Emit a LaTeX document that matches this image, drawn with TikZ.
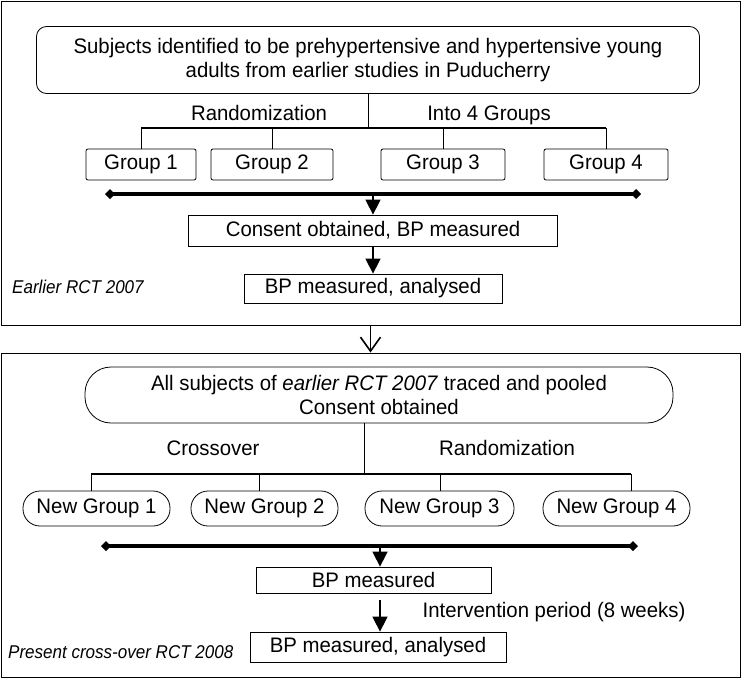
\documentclass[tikz,border=0pt]{standalone}
\usepackage{fontspec}
\setmainfont{Liberation Sans}[FakeStretch=0.97]
\newfontfamily\sidefont{Liberation Sans}[FakeStretch=0.92]
\usepackage{tikz}
\usetikzlibrary{
arrows.meta,
calc,
}

\tikzset{
	frame/.style={draw, line width=1pt, minimum width=739pt, inner sep=0pt},
	stepbox/.style={draw, line width=0.8pt, inner sep=0pt, align=center},
	grpbox/.style={stepbox, rounded corners=2pt, minimum height=31pt},
	newgrp/.style={stepbox, rounded corners=17pt, minimum height=35pt},
	lbl/.style={anchor=base, inner sep=0pt},
	branch/.style={line width=1.8pt},
	drop/.style={line width=0.9pt},
	bar/.style={line width=4.2pt, {Diamond[length=10pt,width=10pt]}-{Diamond[length=10pt,width=10pt]}},
	arr/.style={line width=1.5pt, -{Triangle[length=15pt,width=15pt]}},
	side/.style={anchor=base west, inner sep=0pt, font=\sidefont\fontsize{18.5}{22}\selectfont\itshape},
}

\begin{document}
\begin{tikzpicture}[x=1pt, y=-1pt, every node/.style={font=\fontsize{21}{24}\selectfont}]
			\useasboundingbox (0,0) rectangle (741,678);

			% earlier trial
			\node[frame, minimum height=324pt] (earlier) at (370.5,163) {};
			\node[stepbox, rounded corners=10pt, minimum width=663pt, minimum height=67pt] (subj) at (368,60)
				{Subjects identified to be prehypertensive and hypertensive young\\adults from earlier studies in Puducherry};
			\coordinate (r1) at (368,128);
			\node[lbl] (rand1) at (259,120) {Randomization};
			\node[lbl] (into) at (489,120) {Into 4 Groups};

			\node[grpbox, minimum width=110pt] (g1) at (141,164.5) {Group 1};
			\node[grpbox, minimum width=122pt] (g2) at (272,164.5) {Group 2};
			\node[grpbox, minimum width=124pt] (g3) at (443,164.5) {Group 3};
			\node[grpbox, minimum width=124pt] (g4) at (606,164.5) {Group 4};

			\draw[drop] (subj.south) -- (r1);
			\draw[branch] (g1.north |- r1) -- (g4.north |- r1);
			\foreach \g in {g1,g2,g3,g4}
				\draw[drop] (\g.north) -- (\g.north |- r1);

			\coordinate (bl1) at (105,194);
			\coordinate (br1) at (641,194);
			\draw[bar] (bl1) -- (br1);

			\node[stepbox, minimum width=369pt, minimum height=31pt] (consent) at (373,230.5) {Consent obtained, BP measured};
			\node[stepbox, minimum width=258pt, minimum height=29pt] (bp1) at (373,288.5) {BP measured, analysed};
			\draw[arr] (consent.north |- bl1) -- (consent.north);
			\draw[arr] (consent.south) -- (bp1.north);
			\node[side] (lbl1) at (12,293) {Earlier RCT 2007};

			% present trial
			\node[frame, minimum height=324pt] (present) at (370.5,515) {};
			\draw[line width=1.6pt, -{Straight Barb[length=14pt,width=20pt]}] (earlier.south) -- (present.north);

			\node[stepbox, rounded corners=26pt, minimum width=588pt, minimum height=56pt] (pool) at (379,395)
				{All subjects of \textit{earlier RCT 2007} traced and pooled\\Consent obtained};
			\coordinate (r2) at (364,474);
			\node[lbl] (cross) at (213,455) {Crossover};
			\node[lbl] (rand2) at (507,455) {Randomization};

			\node[newgrp, minimum width=147pt] (ng1) at (96.5,508.5) {New Group 1};
			\node[newgrp, minimum width=147pt] (ng2) at (264.5,508.5) {New Group 2};
			\node[newgrp, minimum width=149pt] (ng3) at (439.5,508.5) {New Group 3};
			\node[newgrp, minimum width=147pt] (ng4) at (616.5,508.5) {New Group 4};

			\coordinate (d1) at ([xshift=-5.5pt]ng1.north);
			\coordinate (d2) at ([xshift=-5.5pt]ng2.north);
			\coordinate (d3) at ([xshift=0.5pt]ng3.north);
			\coordinate (d4) at ([xshift=14.5pt]ng4.north);

			\draw[drop] (r2 |- pool.south) -- (r2);
			\draw[branch] (d1 |- r2) -- (d4 |- r2);
			\foreach \d in {d1,d2,d3,d4}
				\draw[drop] (\d) -- (\d |- r2);

			\coordinate (bl2) at (101,546);
			\coordinate (br2) at (638,546);
			\draw[bar] (bl2) -- (br2);

			\node[stepbox, minimum width=235pt, minimum height=26pt] (bp2) at (373.5,580) {BP measured};
			\node[stepbox, minimum width=256pt, minimum height=30pt] (bp3) at (378,647) {BP measured, analysed};
			\coordinate (a2) at (380,546);
			\draw[arr] (a2) -- (a2 |- bp2.north);
			\draw[arr, shorten <=7pt] (a2 |- bp2.south) -- (a2 |- bp3.north);
			\node[lbl] (interv) at (554,617) {Intervention period (8 weeks)};
			\node[side] (lbl2) at (8,658) {Present cross-over RCT 2008};
		\end{tikzpicture}
\end{document}
